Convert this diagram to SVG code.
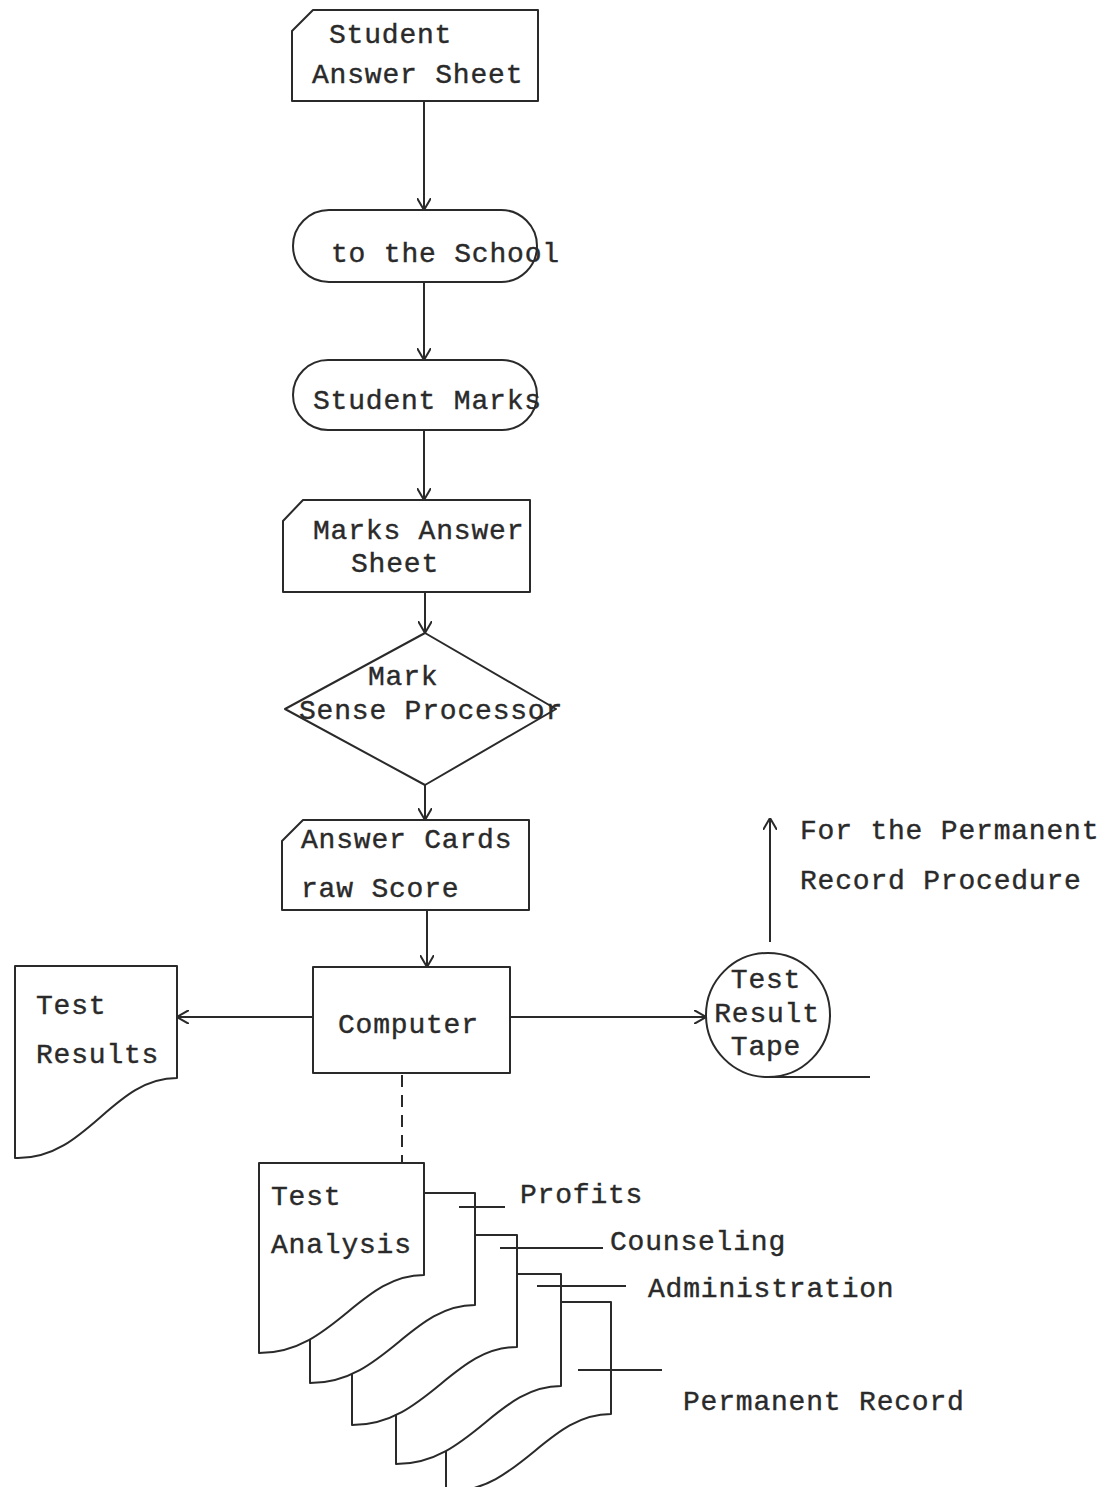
<svg xmlns="http://www.w3.org/2000/svg" width="1118" height="1487" viewBox="0 0 1118 1487">
  <style>
    .shape { fill: #ffffff; stroke: #2a2a2a; stroke-width: 2; stroke-linejoin: round; }
    .line { fill: none; stroke: #2a2a2a; stroke-width: 2; }
    .dash { fill: none; stroke: #2a2a2a; stroke-width: 2; stroke-dasharray: 12 8; }
    text { font-family: "Liberation Mono", "Courier New", monospace; font-size: 28px; letter-spacing: 0.8px; fill: #2a2a2a; stroke: #2a2a2a; stroke-width: 0.4; }
    .mid { text-anchor: middle; }
  </style>
  <defs>
    <marker id="arrow" viewBox="0 0 12 14" refX="12" refY="7" markerWidth="12" markerHeight="14" markerUnits="userSpaceOnUse" orient="auto">
      <path d="M0,0 L12,7 L0,14" fill="none" stroke="#2a2a2a" stroke-width="2"/>
    </marker>
  </defs>

  <rect width="1118" height="1487" fill="#ffffff"/>

  <!-- connectors -->
  <g id="connectors">
    <line class="line" x1="424" y1="100" x2="424" y2="210" marker-end="url(#arrow)"/>
    <line class="line" x1="424" y1="282" x2="424" y2="360" marker-end="url(#arrow)"/>
    <line class="line" x1="424" y1="430" x2="424" y2="500" marker-end="url(#arrow)"/>
    <line class="line" x1="425" y1="592" x2="425" y2="633" marker-end="url(#arrow)"/>
    <line class="line" x1="425" y1="785" x2="425" y2="820" marker-end="url(#arrow)"/>
    <line class="line" x1="427" y1="910" x2="427" y2="967" marker-end="url(#arrow)"/>
    <line class="line" x1="313" y1="1017" x2="177" y2="1017" marker-end="url(#arrow)"/>
    <line class="line" x1="510" y1="1017" x2="706" y2="1017" marker-end="url(#arrow)"/>
    <line class="line" x1="770" y1="942" x2="770" y2="818" marker-end="url(#arrow)"/>
    <line class="dash" x1="402" y1="1075" x2="402" y2="1163"/>
  </g>

  <!-- input card: Student Answer Sheet -->
  <g id="student-answer-sheet">
    <path class="shape" d="M313,10 H538 V101 H292 V31 Z"/>
    <text x="329" y="43">Student</text>
    <text x="312" y="83">Answer Sheet</text>
  </g>

  <!-- terminal: to the School -->
  <g id="to-the-school">
    <rect class="shape" x="293" y="210" width="244" height="72" rx="36" ry="36"/>
    <text x="331" y="262">to the School</text>
  </g>

  <!-- terminal: Student Marks -->
  <g id="student-marks">
    <rect class="shape" x="293" y="360" width="244" height="70" rx="35" ry="35"/>
    <text x="313" y="409">Student Marks</text>
  </g>

  <!-- input card: Marks Answer Sheet -->
  <g id="marks-answer-sheet">
    <path class="shape" d="M303,500 H530 V592 H283 V521 Z"/>
    <text x="313" y="539">Marks Answer</text>
    <text x="351" y="572">Sheet</text>
  </g>

  <!-- decision: Mark Sense Processor -->
  <g id="mark-sense-processor">
    <path class="shape" d="M425,633 L556,709 L425,785 L285,709 Z"/>
    <text x="368" y="685">Mark</text>
    <text x="299" y="719">Sense Processor</text>
  </g>

  <!-- punched card: Answer Cards raw Score -->
  <g id="answer-cards">
    <path class="shape" d="M303,820 H529 V910 H282 V841 Z"/>
    <text x="301" y="848">Answer Cards</text>
    <text x="301" y="897">raw Score</text>
  </g>

  <!-- process: Computer -->
  <g id="computer">
    <rect class="shape" x="313" y="967" width="197" height="106"/>
    <text x="338" y="1033">Computer</text>
  </g>

  <!-- document: Test Results -->
  <g id="test-results">
    <path class="shape" d="M15,966 H177 V1078 C112,1078 88,1158 18,1158 L15,1158 Z"/>
    <text x="36" y="1014">Test</text>
    <text x="36" y="1063">Results</text>
  </g>

  <!-- magnetic tape: Test Result Tape -->
  <g id="test-result-tape">
    <circle class="shape" cx="768" cy="1015" r="62"/>
    <line class="line" x1="768" y1="1077" x2="870" y2="1077"/>
    <text class="mid" x="766" y="988">Test</text>
    <text class="mid" x="767" y="1022">Result</text>
    <text class="mid" x="766" y="1055">Tape</text>
  </g>

  <!-- annotation for the upward flow -->
  <g id="permanent-record-procedure">
    <text x="800" y="839">For the Permanent</text>
    <text x="800" y="889">Record Procedure</text>
  </g>

  <!-- multiple documents: Test Analysis, drawn back to front -->
  <g id="test-analysis">
    <path class="shape" d="M446,1302 H611 V1414 C546,1414 521,1492 446,1492 Z"/>
    <path class="shape" d="M396,1274 H561 V1386 C496,1386 471,1464 396,1464 Z"/>
    <path class="shape" d="M352,1235 H517 V1347 C452,1347 427,1425 352,1425 Z"/>
    <path class="shape" d="M310,1193 H475 V1305 C410,1305 385,1383 310,1383 Z"/>
    <path class="shape" d="M259,1163 H424 V1275 C359,1275 334,1353 259,1353 Z"/>
    <text x="271" y="1205">Test</text>
    <text x="271" y="1253">Analysis</text>
  </g>

  <!-- distribution labels -->
  <g id="distribution">
    <line class="line" x1="459" y1="1207" x2="505" y2="1207"/>
    <text x="520" y="1203">Profits</text>
    <line class="line" x1="500" y1="1248" x2="603" y2="1248"/>
    <text x="610" y="1250">Counseling</text>
    <line class="line" x1="537" y1="1286" x2="626" y2="1286"/>
    <text x="648" y="1297">Administration</text>
    <line class="line" x1="578" y1="1370" x2="662" y2="1370"/>
    <text x="683" y="1410">Permanent Record</text>
  </g>
</svg>
